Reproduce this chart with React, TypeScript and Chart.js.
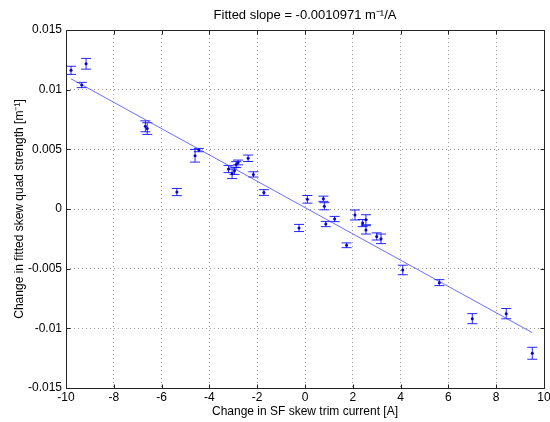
import React, { useEffect, useRef } from "react";
import { Chart, registerables } from "chart.js";

Chart.register(...registerables);

const xVals = [-9.79, -9.34, -9.16, -6.68, -6.6, -5.36, -4.6, -4.44, -3.2, -3.05, -2.95, -2.88, -2.8, -2.38, -2.16, -1.72, -0.25, 0.1, 0.77, 0.81, 0.87, 1.24, 1.74, 2.09, 2.41, 2.55, 2.55, 3.0, 3.18, 4.09, 5.62, 7.0, 8.42, 9.51];
const yVals = [0.01162, 0.01039, 0.01217, 0.00693, 0.00674, 0.00142, 0.00446, 0.00494, 0.00335, 0.00295, 0.0032, 0.00372, 0.0039, 0.00425, 0.0029, 0.00138, -0.00159, 0.00081, 0.00086, 0.00023, -0.00126, -0.00084, -0.00304, -0.0005, -0.00118, -0.0009, -0.00175, -0.0023, -0.0025, -0.00511, -0.00617, -0.00919, -0.00877, -0.01209];
const errVals = [0.00034, 0.00022, 0.00045, 0.00046, 0.00049, 0.0003, 0.00053, 0.00014, 0.0003, 0.0004, 0.0003, 0.00025, 0.0002, 0.00027, 0.00022, 0.00024, 0.0003, 0.00032, 0.00022, 0.0003, 0.00022, 0.00022, 0.0002, 0.00042, 0.0003, 0.00042, 0.00035, 0.0003, 0.0004, 0.0004, 0.00025, 0.00042, 0.00043, 0.0005];
const fitX = [-9.79, 9.51];
const fitY = [0.01091, -0.01036];

const titleText = "Fitted slope = -0.0010971 m\u207B\u00B9/A";
const xTitle = "Change in SF skew trim current [A]";
const yTitle = "Change in fitted skew quad strength [m\u207B\u00B9]";

const FONT = "'Liberation Sans', Arial, sans-serif";

const errorBarPlugin = {
  id: "errorBars",
  beforeDatasetsDraw(chart: any) {
    const { ctx, scales } = chart;
    const xs = scales.x;
    const ys = scales.y;
    ctx.save();
    ctx.strokeStyle = "rgba(0,0,255,0.85)";
    ctx.lineWidth = 1;
    for (let i = 0; i < xVals.length; i++) {
      const px = xs.getPixelForValue(xVals[i]);
      const pt = ys.getPixelForValue(yVals[i] + errVals[i]);
      const pb = ys.getPixelForValue(yVals[i] - errVals[i]);
      ctx.beginPath();
      ctx.moveTo(px, pt);
      ctx.lineTo(px, pb);
      ctx.moveTo(px - 5, pt);
      ctx.lineTo(px + 5, pt);
      ctx.moveTo(px - 5, pb);
      ctx.lineTo(px + 5, pb);
      ctx.stroke();
    }
    ctx.restore();
  },
};

const boxPlugin = {
  id: "boxTicks",
  afterDraw(chart: any) {
    const { ctx, chartArea, scales } = chart;
    const { left, right, top, bottom } = chartArea;
    ctx.save();
    ctx.strokeStyle = "#222";
    ctx.lineWidth = 1;
    ctx.beginPath();
    const L = Math.round(left) + 0.5, R = Math.round(right) + 0.5;
    const T = Math.round(top) + 0.5, B = Math.round(bottom) + 0.5;
    ctx.rect(L, T, R - L, B - T);
    const tl = 4;
    scales.x.ticks.forEach((t: any) => {
      const px = Math.round(scales.x.getPixelForValue(t.value)) + 0.5;
      ctx.moveTo(px, B);
      ctx.lineTo(px, B - tl);
      ctx.moveTo(px, T);
      ctx.lineTo(px, T + tl);
    });
    scales.y.ticks.forEach((t: any) => {
      const py = Math.round(scales.y.getPixelForValue(t.value)) + 0.5;
      ctx.moveTo(L, py);
      ctx.lineTo(L + tl, py);
      ctx.moveTo(R, py);
      ctx.lineTo(R - tl, py);
    });
    ctx.stroke();
    ctx.restore();
  },
};

function fmt(v: number): string {
  const r = Number(v.toFixed(3));
  if (r === 0) return "0";
  return String(r);
}

export default function App() {
  const ref = useRef<HTMLCanvasElement>(null);
  useEffect(() => {
    document.body.style.margin = "0";
    document.body.style.background = "#ffffff";
    const canvas = ref.current!;
    const pts = xVals.map((x, i) => ({ x, y: yVals[i] }));
    const fit = fitX.map((x, i) => ({ x, y: fitY[i] }));
    const chart = new Chart(canvas, {
      type: "scatter",
      data: {
        datasets: [
          {
            data: pts,
            backgroundColor: "#0000cc",
            borderColor: "#0000cc",
            pointRadius: 1.5,
            pointBorderWidth: 0,
            showLine: false,
          } as any,
          {
            data: fit,
            type: "line",
            borderColor: "rgba(60,60,255,0.75)",
            borderWidth: 1,
            pointRadius: 0,
            fill: false,
          } as any,
        ],
      },
      options: {
        animation: false,
        responsive: false,
        devicePixelRatio: 1,
        layout: { padding: { top: 0, right: 6, bottom: 0, left: 0 } },
        plugins: {
          legend: { display: false },
          tooltip: { enabled: false },
          title: {
            display: true,
            text: titleText,
            fullSize: false,
            color: "#000",
            font: { family: FONT, size: 13, weight: "normal" },
            padding: { top: 7.5, bottom: 6.9 },
          },
        },
        scales: {
          x: {
            type: "linear",
            min: -10,
            max: 10,
            afterFit: (s: any) => {
              s.height = 34;
              s.paddingLeft = 0;
              s.paddingRight = 0;
            },
            ticks: {
              stepSize: 2,
              color: "#000",
              padding: 2,
              font: { family: FONT, size: 12 },
              maxRotation: 0,
              callback: (v: any) => fmt(Number(v)),
            },
            grid: {
              color: "#a0a0a0",
              drawTicks: false,
              lineWidth: 1,
            },
            border: { display: false, dash: [1, 3] },
            title: {
              display: true,
              text: xTitle,
              color: "#000",
              font: { family: FONT, size: 12 },
              padding: { top: 0, bottom: 2.8 },
            },
          },
          y: {
            type: "linear",
            min: -0.015,
            max: 0.015,
            afterFit: (s: any) => {
              s.width = 66;
              s.paddingTop = 0;
              s.paddingBottom = 0;
            },
            ticks: {
              stepSize: 0.005,
              color: "#000",
              padding: 4,
              font: { family: FONT, size: 12 },
              callback: (v: any) => fmt(Number(v)),
            },
            grid: {
              color: "#a0a0a0",
              drawTicks: false,
              lineWidth: 1,
            },
            border: { display: false, dash: [1, 3] },
            title: {
              display: true,
              text: yTitle,
              color: "#000",
              font: { family: FONT, size: 12 },
              padding: { top: 12.8, bottom: 0 },
            },
          },
        },
      } as any,
      plugins: [errorBarPlugin, boxPlugin],
    });
    return () => chart.destroy();
  }, []);
  return (
    <div style={{ width: 550, height: 422, background: "#fff" }}>
      <canvas ref={ref} width={550} height={422} style={{ display: "block", width: 550, height: 422 }} />
    </div>
  );
}
